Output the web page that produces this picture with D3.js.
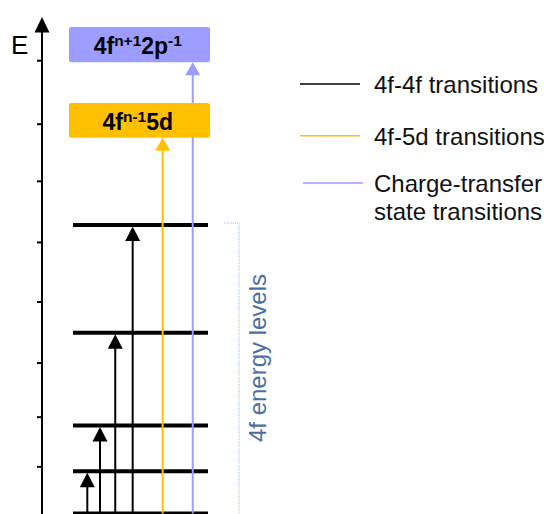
<!DOCTYPE html>
<html><head><meta charset="utf-8">
<script src="https://cdn.jsdelivr.net/npm/d3@7"></script>
<style>body{margin:0;background:#fff}svg{display:block}text{font-family:"Liberation Sans",Arial,sans-serif}</style>
</head><body>
<script>
// Energy in arbitrary units (0 = ground state, 100 = axis tip)
const axisTicks = [9.5, 19.5, 30.4, 42.7, 54.7, 67, 78.5, 91.3];
const levels4f = [0, 8.5, 17.7, 36.4, 58.1];
const transitions44 = [
  {col: 1.06, to: 8.5},
  {col: 2.0, to: 17.7},
  {col: 3.13, to: 36.4},
  {col: 4.42, to: 58.1}
];
const states = [
  {name: "5d", lo: 75.7, hi: 82.7, main: ["4f", "5d"], sup: ["n-1"]},
  {name: "CT", lo: 90.9, hi: 98.0, main: ["4f", "2p"], sup: ["n+1", "-1"]}
];
const transitionsOther = [
  {col: 6.64, to: 75.7, type: "5d"},
  {col: 8.87, to: 90.9, type: "CT"}
];
const legendLabels = [["4f-4f transitions"], ["4f-5d transitions"], ["Charge-transfer", "state transitions"]];
const axisLabel = "E";
const bracketLabel = "4f energy levels";

const W = 544, H = 514;
const colors = {"4f": "#000", "5d": "#FFC000", "CT": "#9d9dff"};
const boxFill = {"5d": "#FFC000", "CT": "#9d9dff"};

const svg = d3.select("body").append("svg").attr("width", W).attr("height", H);
const y = d3.scaleLinear().domain([0, 100]).range([513.5, 17]);
const x = d3.scaleLinear().domain([0, 10]).range([73, 208]);
const axisX = 42;

// axis
const ax = svg.append("g").attr("transform", `translate(${axisX},0)`)
  .call(d3.axisLeft(y).tickValues(axisTicks).tickSize(5).tickFormat(""));
ax.select(".domain").remove();
ax.selectAll(".tick line").attr("stroke", "#000").attr("stroke-width", 2);
svg.append("line").attr("x1", axisX).attr("x2", axisX).attr("y1", y(97)).attr("y2", H)
  .attr("stroke", "#000").attr("stroke-width", 2);
svg.append("path").attr("d", `M${axisX},${y(100)} L${axisX-7.5},${y(100)+15.5} L${axisX+7.5},${y(100)+15.5}Z`).attr("fill", "#000");
svg.append("text").attr("x", 11).attr("y", 54).attr("font-size", 26)
  .style("font-family", '"Liberation Sans Narrow","Liberation Sans",Arial,sans-serif').text(axisLabel);

// 4f levels
svg.selectAll("line.lvl").data(levels4f).join("line").attr("class", "lvl")
  .attr("x1", x(0)).attr("x2", x(10)).attr("y1", d => y(d)).attr("y2", d => y(d))
  .attr("stroke", "#000").attr("stroke-width", 4);

function arrow(g, cx, tipY, color, w, h) {
  g.append("line").attr("x1", cx).attr("x2", cx).attr("y1", y(0)).attr("y2", tipY + h - 1)
    .attr("stroke", color).attr("stroke-width", 2);
  g.append("path").attr("d", `M${cx},${tipY} L${cx-w/2},${tipY+h} L${cx+w/2},${tipY+h}Z`).attr("fill", color);
}
const ag = svg.append("g");
transitions44.forEach(t => arrow(ag, x(t.col), y(t.to) + 1.5, colors["4f"], 15, 14.5));
transitionsOther.forEach(t => arrow(ag, x(t.col), y(t.to), colors[t.type], 15, 13));

// state boxes
states.forEach(s => {
  svg.append("rect").attr("x", x(-0.3)).attr("width", x(10.15) - x(-0.3))
    .attr("y", y(s.hi)).attr("height", y(s.lo) - y(s.hi)).attr("rx", 2.5)
    .attr("fill", boxFill[s.name]);
  const t = svg.append("text").attr("x", x(4.8)).attr("y", y(s.lo) - 8)
    .attr("text-anchor", "middle").attr("font-weight", "bold").attr("font-size", 23).attr("fill", "#000");
  s.main.forEach((m, i) => {
    t.append("tspan").attr("font-size", 23).attr("dy", i === 0 ? 0 : 8).text(m);
    if (s.sup[i] !== undefined) t.append("tspan").attr("font-size", 15.5).attr("dy", -8).text(s.sup[i]);
  });
});

// bracket
const bx = 239;
svg.append("path").attr("d", `M224,${y(58.1)-2} H${bx} V${H}`).attr("fill", "none")
  .attr("stroke", "#8fb0dc").attr("stroke-width", 1).attr("stroke-dasharray", "1,1.2");
svg.append("text").attr("transform", `translate(266,358) rotate(-90)`).attr("text-anchor", "middle")
  .attr("font-size", 24).attr("fill", "#4a6fa5").text(bracketLabel);

// legend
const legY = [84, 135.7, 183];
const legTypes = ["4f", "5d", "CT"];
const lg = svg.append("g");
legendLabels.forEach((lab, i) => {
  const off = legTypes[i] === "CT" ? 3 : 0;
  lg.append("line").attr("x1", 300 + off).attr("x2", 360 + off).attr("y1", legY[i]).attr("y2", legY[i])
    .attr("stroke", colors[legTypes[i]]).attr("stroke-width", 1.5);
  lab.forEach((l, j) => lg.append("text").attr("x", 374).attr("y", legY[i] + 9 + j * 28)
    .attr("font-size", 24).attr("fill", "#111").text(l));
});
</script>
</body></html>
